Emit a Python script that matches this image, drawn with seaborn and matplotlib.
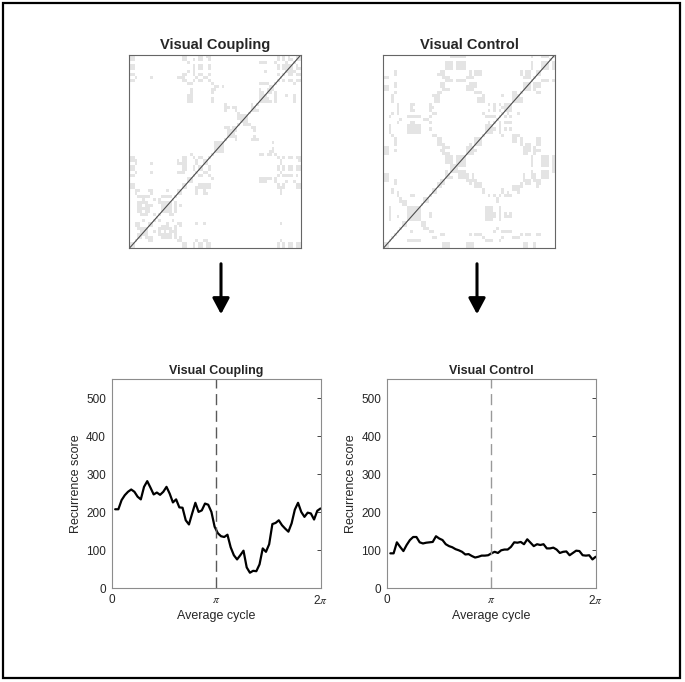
import numpy as np
import pandas as pd
import matplotlib
matplotlib.use('Agg')
import matplotlib.pyplot as plt
import matplotlib.patches as patches
from matplotlib.colors import ListedColormap
import seaborn as sns

sns.set_style('white')
plt.rcParams['font.family'] = ['Liberation Sans', 'DejaVu Sans']
plt.rcParams['mathtext.fontset'] = 'stix'

# Recurrence score across the average cycle
coupling_scores = [208, 208, 232, 245, 254, 260, 254, 241, 234, 267, 282, 265, 247, 252,
                   246, 254, 267, 249, 226, 234, 213, 212, 179, 168, 197, 225, 201, 205,
                   223, 220, 201, 162, 145, 137, 135, 141, 108, 87, 76, 87, 99, 55, 41,
                   46, 45, 63, 105, 96, 116, 169, 172, 179, 166, 157, 149, 171, 207, 225,
                   201, 188, 199, 197, 181, 204, 210]
control_scores = [92, 92, 121, 109, 98, 114, 127, 135, 135, 121, 118, 120, 121, 122, 137,
                  131, 127, 116, 111, 108, 103, 100, 96, 89, 90, 85, 81, 83, 86, 86, 87, 92,
                  96, 93, 100, 102, 102, 109, 121, 120, 122, 116, 129, 120, 111, 116, 114,
                  116, 105, 105, 107, 102, 93, 96, 97, 87, 93, 99, 98, 87, 86, 87, 76, 83]
conditions = ['Visual Coupling', 'Visual Control']
series = [coupling_scores, control_scores]
recurrence_radius = [12, 4]
phase_start = 0.11
yticks = [0, 100, 200, 300, 400, 500]

W, H = 685, 682
fig = plt.figure(figsize=(W / 100, H / 100), dpi=100)

def fx(px):
    return px / W

def fy(py):
    return 1 - py / H

# outer frame
fig.patches.append(patches.Rectangle((fx(3), fy(678)), fx(677), 675 / H,
                                     transform=fig.transFigure, fill=False,
                                     edgecolor='black', linewidth=1.6))

rp_cmap = ListedColormap(['white', '#e4e4e4'])

top_lefts = [129.3, 383.3]
bottom_lefts = [111.5, 386.7]
arrow_x = [221, 477]
dash_colors = ['0.35', '0.6']

for k, (name, vals) in enumerate(zip(conditions, series)):
    vals = np.array(vals, dtype=float)
    n = len(vals)

    # recurrence plot built from the same series
    ax_rp = fig.add_axes([fx(top_lefts[k]), fy(248.3), 171.5 / W, 193.3 / H])
    dist = np.abs(vals[:, None] - vals[None, :])
    rec = (dist <= recurrence_radius[k]).astype(float)
    sns.heatmap(rec, ax=ax_rp, cmap=rp_cmap, vmin=0, vmax=1, cbar=False,
                xticklabels=False, yticklabels=False)
    ax_rp.invert_yaxis()
    ax_rp.plot([0, n], [0, n], color='0.3', linewidth=0.8)
    for s in ax_rp.spines.values():
        s.set_visible(True)
        s.set_color('0.4')
        s.set_linewidth(0.8)
    ax_rp.set_title(name, fontsize=10.5, fontweight='bold', pad=4)

    # arrow
    fig.patches.append(patches.FancyArrowPatch((fx(arrow_x[k]), fy(261)),
                                               (fx(arrow_x[k]), fy(317)),
                                               transform=fig.transFigure,
                                               arrowstyle='-|>,head_length=6,head_width=3.2',
                                               color='black', linewidth=2.2,
                                               mutation_scale=1.6))

    # line plot
    ax = fig.add_axes([fx(bottom_lefts[k]), fy(588.3), 209 / W, 209 / H])
    df = pd.DataFrame({'phase': np.linspace(phase_start, 2 * np.pi, n), 'score': vals})
    sns.lineplot(data=df, x='phase', y='score', ax=ax, color='black', linewidth=1.6)
    ax.axvline(np.pi, color=dash_colors[k], linewidth=1.0, dashes=(8, 4))
    ax.set_xlim(0, 2 * np.pi)
    ax.set_ylim(0, 550)
    ax.set_xticks([0, np.pi, 2 * np.pi])
    ax.set_xticklabels(['0', r'$\pi$', r'2$\pi$'])
    ax.set_yticks(yticks)
    ax.tick_params(direction='in', length=3, labelsize=8.5, colors='0.15',
                   top=True, right=True, width=0.6, pad=4)
    for s in ax.spines.values():
        s.set_color('0.55')
        s.set_linewidth(0.8)
    ax.set_xlabel('Average cycle', fontsize=9, color='0.15', labelpad=2)
    ax.set_ylabel('Recurrence score', fontsize=9, color='0.15', labelpad=3)
    ax.set_title(name, fontsize=9, fontweight='bold', pad=4)

fig.savefig('out.png', dpi=100)
